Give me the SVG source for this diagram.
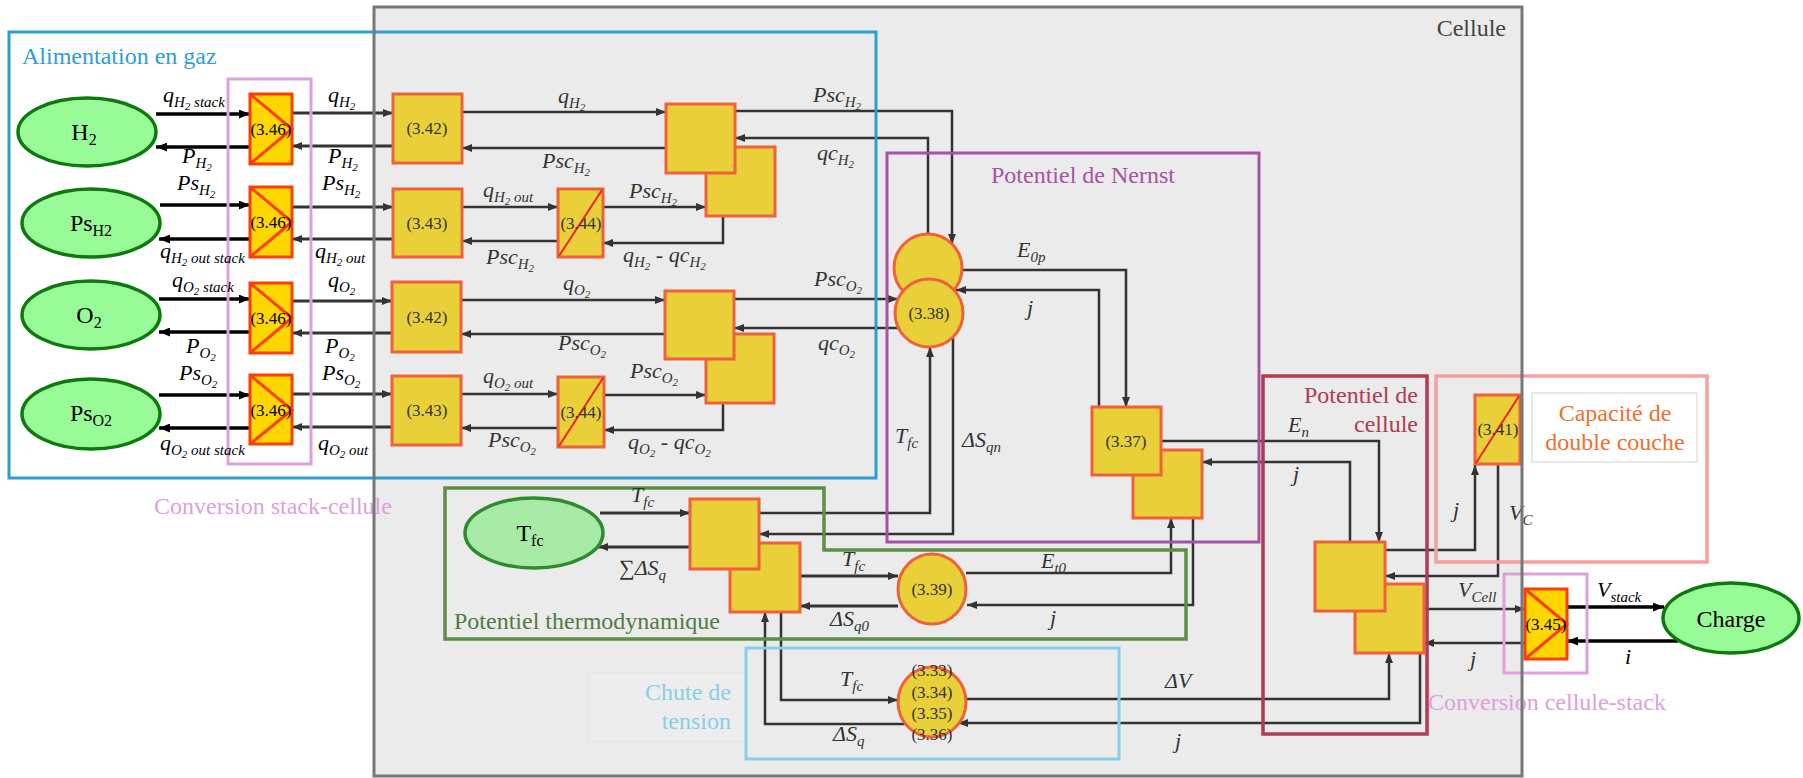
<svg xmlns="http://www.w3.org/2000/svg" width="1803" height="778" viewBox="0 0 1803 778" font-family="'Liberation Serif','Times New Roman','DejaVu Serif',serif">
<style>
text{font-family:'Liberation Serif','Times New Roman','DejaVu Serif',serif}
.eq{fill:#e9cf38;stroke:#f0603a;stroke-width:3}
.cv{fill:#ffd700;stroke:#ff3d00;stroke-width:3}
.tri{fill:none;stroke:#ff3d00;stroke-width:3}
.dg{fill:none;stroke:#ee2222;stroke-width:2}
.ell{fill:#98fb98;stroke:#0d7a0d;stroke-width:3.5}
.c{fill:none;stroke:#333;stroke-width:2.5;marker-end:url(#ah)}
.c3{fill:none;stroke:#333;stroke-width:3.2;marker-end:url(#ah)}
.k{fill:none;stroke:#000;stroke-width:3.5;marker-end:url(#ahk)}
.num{font-size:17px;fill:#333;text-anchor:middle}
.numk{font-size:17px;fill:#000;text-anchor:middle}
.lb{font-style:italic;font-size:22px;fill:#333}
.lbk{font-style:italic;font-size:22px;fill:#000}
.s{font-size:15px}
.ss{font-size:11px}
.nt{font-size:24px;fill:#000;text-anchor:middle}
.grp{font-size:24px}
.box{fill:none}
</style>
<defs>
<marker id="ah" viewBox="0 0 10 8" refX="10" refY="4" markerWidth="10" markerHeight="8" markerUnits="userSpaceOnUse" orient="auto"><path d="M0,0L10,4L0,8z" fill="#333"/></marker>
<marker id="ahk" viewBox="0 0 10 8" refX="10" refY="4" markerWidth="11" markerHeight="9" markerUnits="userSpaceOnUse" orient="auto"><path d="M0,0L10,4L0,8z" fill="#000"/></marker>
</defs>
<rect width="1803" height="778" fill="#fff"/>
<rect x="374" y="7" width="1148" height="769" fill="#ebebeb"/>
<rect x="589" y="673" width="157" height="68" fill="#ededed" stroke="#e6e6e6" stroke-width="1"/>

<g id="connectors">
<path class="k" d="M156,114H250"/>
<path class="k" d="M250,147H156"/>
<path class="k" d="M160,205H250"/>
<path class="k" d="M250,239H159"/>
<path class="k" d="M159,299H250"/>
<path class="k" d="M250,332H159"/>
<path class="k" d="M159,395H250"/>
<path class="k" d="M250,428H159"/>
<path class="c3" d="M292,113H393"/>
<path class="c3" d="M393,146H292"/>
<path class="c3" d="M292,207H393"/>
<path class="c3" d="M393,239H292"/>
<path class="c3" d="M292,301H392"/>
<path class="c3" d="M392,333H292"/>
<path class="c3" d="M292,394H392"/>
<path class="c3" d="M392,427H292"/>
<path class="c" d="M462,112H666"/>
<path class="c" d="M666,148H462"/>
<path class="c" d="M462,207H558"/>
<path class="c" d="M558,241H462"/>
<path class="c" d="M603,207H706"/>
<path class="c" d="M723,216V243H603"/>
<path class="c" d="M735,111H952V244"/>
<path class="c" d="M928,234V138H735"/>
<path class="c" d="M461,300H665"/>
<path class="c" d="M665,334H461"/>
<path class="c" d="M461,394H558"/>
<path class="c" d="M558,428H461"/>
<path class="c" d="M604,395H706"/>
<path class="c" d="M723,403V430H604"/>
<path class="c" d="M734,299H898"/>
<path class="c" d="M898,328H734"/>
<path class="c" d="M962,270H1126V407"/>
<path class="c" d="M1099,407V290H956"/>
<path class="c" d="M759,513H930V347"/>
<path class="c" d="M953,338V534H759"/>
<path class="c3" d="M600,513H690"/>
<path class="c3" d="M690,547H598"/>
<path class="c3" d="M800,576H898"/>
<path class="c3" d="M898,606H800"/>
<path class="c" d="M966,573H1171V518"/>
<path class="c" d="M1193,518V605H967"/>
<path class="c" d="M781,612V700H898"/>
<path class="c" d="M906,724H765V612"/>
<path class="c" d="M1161,441H1379V542"/>
<path class="c" d="M1350,542V462H1202"/>
<path class="c" d="M967,699H1389V653"/>
<path class="c" d="M1420,653V723H958"/>
<path class="c" d="M1385,550H1475V465"/>
<path class="c" d="M1498,464V576H1385"/>
<path class="c" d="M1424,609H1525"/>
<path class="c" d="M1525,643H1424"/>
<path class="k" d="M1567,607H1664"/>
<path class="k" d="M1678,641H1567"/>
</g>

<g id="groups">
<rect class="box" x="9" y="32" width="867" height="446" stroke="#2a9fd6" stroke-width="3"/>
<rect class="box" x="228" y="79" width="83" height="385" stroke="#dda0dd" stroke-width="3"/>
<rect class="box" x="887" y="153" width="372" height="389" stroke="#a653a6" stroke-width="3"/>
<path class="box" d="M445,488H824V550H1186V639H445Z" stroke="#5b8f45" stroke-width="3.5"/>
<rect class="box" x="746" y="648" width="373" height="111" stroke="#87ceeb" stroke-width="3"/>
<rect class="box" x="1263" y="376" width="164" height="358" stroke="#b23a52" stroke-width="3.5"/>
<rect class="box" x="1436" y="376" width="271" height="186" stroke="#f5a0a0" stroke-width="3.5"/>
<rect x="1532" y="393" width="165" height="69" fill="#fff" stroke="#cfcfcf" stroke-width="1"/>
<rect class="box" x="1504" y="574" width="83" height="99" stroke="#dda0dd" stroke-width="3"/>
</g>

<g id="H2"><ellipse class="ell" cx="87" cy="132" rx="69" ry="34"/><text class="nt" x="84" y="140">H<tspan font-size="16" dy="5">2</tspan></text></g>
<g id="PsH2"><ellipse class="ell" cx="91" cy="223" rx="69" ry="34"/><text class="nt" x="91" y="231">Ps<tspan font-size="16" dy="5">H2</tspan></text></g>
<g id="O2"><ellipse class="ell" cx="91" cy="315" rx="69" ry="34"/><text class="nt" x="89" y="323">O<tspan font-size="16" dy="5">2</tspan></text></g>
<g id="PsO2"><ellipse class="ell" cx="91" cy="414" rx="69" ry="35"/><text class="nt" x="91" y="421">Ps<tspan font-size="16" dy="5">O2</tspan></text></g>

<g id="c346a"><rect class="cv" x="250" y="94" width="42" height="70"/><path class="tri" d="M250,94L292,129L250,164"/><text class="numk" x="271" y="135">(3.46)</text></g>
<g id="c346b"><rect class="cv" x="250" y="187" width="42" height="70"/><path class="tri" d="M250,187L292,222L250,257"/><text class="numk" x="271" y="228">(3.46)</text></g>
<g id="c346c"><rect class="cv" x="250" y="283" width="42" height="70"/><path class="tri" d="M250,283L292,318L250,353"/><text class="numk" x="271" y="324">(3.46)</text></g>
<g id="c346d"><rect class="cv" x="250" y="375" width="42" height="69"/><path class="tri" d="M250,375L292,410L250,444"/><text class="numk" x="271" y="416">(3.46)</text></g>

<g id="e342h"><rect class="eq" x="393" y="94" width="69" height="69"/><text class="num" x="427" y="134">(3.42)</text></g>
<g id="e343h"><rect class="eq" x="393" y="189" width="69" height="68"/><text class="num" x="427" y="229">(3.43)</text></g>
<g id="e342o"><rect class="eq" x="392" y="282" width="69" height="70"/><text class="num" x="427" y="323">(3.42)</text></g>
<g id="e343o"><rect class="eq" x="392" y="376" width="69" height="69"/><text class="num" x="427" y="416">(3.43)</text></g>

<g id="e344h"><rect class="eq" x="558" y="189" width="45" height="68"/><path class="dg" d="M559,256L602,190"/><text class="num" x="581" y="229">(3.44)</text></g>
<g id="e344o"><rect class="eq" x="558" y="377" width="46" height="70"/><path class="dg" d="M559,446L603,378"/><text class="num" x="581" y="418">(3.44)</text></g>

<g id="pscH2"><rect class="eq" x="706" y="147" width="69" height="69"/><rect class="eq" x="666" y="104" width="69" height="69"/></g>
<g id="pscO2"><rect class="eq" x="706" y="334" width="68" height="69"/><rect class="eq" x="665" y="291" width="69" height="68"/></g>

<g id="e338"><circle class="eq" cx="928" cy="268" r="34"/><circle class="eq" cx="929" cy="313" r="34"/><text class="num" x="929" y="319">(3.38)</text></g>
<g id="e337"><rect class="eq" x="1133" y="450" width="69" height="68"/><rect class="eq" x="1092" y="407" width="69" height="68"/><text class="num" x="1126" y="447">(3.37)</text></g>

<g id="Tfc"><ellipse cx="534" cy="533" rx="69" ry="35" fill="#a6eaa6" stroke="#2e8b2e" stroke-width="3.5"/><text class="nt" x="530" y="541" fill="#222">T<tspan font-size="16" dy="5">fc</tspan></text></g>
<g id="thermo"><rect class="eq" x="730" y="543" width="70" height="69"/><rect class="eq" x="690" y="499" width="69" height="70"/></g>
<g id="e339"><ellipse class="eq" cx="932" cy="589" rx="34" ry="35"/><text class="num" x="932" y="595">(3.39)</text></g>
<g id="e333"><ellipse class="eq" cx="932" cy="702" rx="34" ry="35"/><text class="num" x="932" y="676">(3.33)</text><text class="num" x="932" y="698">(3.34)</text><text class="num" x="932" y="719">(3.35)</text><text class="num" x="932" y="740">(3.36)</text></g>

<g id="cellpot"><rect class="eq" x="1355" y="584" width="69" height="69"/><rect class="eq" x="1315" y="542" width="70" height="69"/></g>
<g id="e341"><rect class="eq" x="1475" y="395" width="45" height="69"/><path class="dg" d="M1476,463L1519,396"/><text class="num" x="1498" y="435">(3.41)</text></g>
<g id="c345"><rect class="cv" x="1525" y="589" width="42" height="70"/><path class="tri" d="M1525,589L1567,624L1525,659"/><text class="numk" x="1546" y="630">(3.45)</text></g>
<g id="Charge"><ellipse class="ell" cx="1731" cy="618" rx="68" ry="35"/><text class="nt" x="1731" y="627">Charge</text></g>

<g id="group-labels">
<text class="grp" x="22" y="64" fill="#2a9fd6" font-size="25.5">Alimentation en gaz</text>
<text class="grp" x="154" y="514" fill="#dda0dd">Conversion stack-cellule</text>
<text class="grp" x="1083" y="183" fill="#a653a6" text-anchor="middle">Potentiel de Nernst</text>
<text class="grp" x="454" y="629" fill="#4f7d3c">Potentiel thermodynamique</text>
<text class="grp" x="731" y="700" fill="#87ceeb" text-anchor="end" font-size="25">Chute de</text>
<text class="grp" x="731" y="729" fill="#87ceeb" text-anchor="end" font-size="25">tension</text>
<text class="grp" x="1418" y="403" fill="#b23a52" text-anchor="end" font-size="25">Potentiel de</text>
<text class="grp" x="1418" y="432" fill="#b23a52" text-anchor="end" font-size="25">cellule</text>
<text class="grp" x="1615" y="421" fill="#f07030" text-anchor="middle" font-size="26">Capacité de</text>
<text class="grp" x="1615" y="450" fill="#f07030" text-anchor="middle" font-size="26">double couche</text>
<text class="grp" x="1428" y="710" fill="#dda0dd">Conversion cellule-stack</text>
<text class="grp" x="1506" y="36" fill="#444" text-anchor="end">Cellule</text>
</g>

<g id="labels">
<text class="lbk" x="163" y="102">q<tspan class="s" dy="5">H</tspan><tspan class="ss" dy="3">2</tspan><tspan class="s" dy="-3"> stack</tspan></text>
<text class="lbk" x="182" y="163">P<tspan class="s" dy="5">H</tspan><tspan class="ss" dy="3">2</tspan></text>
<text class="lbk" x="177" y="190">Ps<tspan class="s" dy="5">H</tspan><tspan class="ss" dy="3">2</tspan></text>
<text class="lbk" x="160" y="258">q<tspan class="s" dy="5">H</tspan><tspan class="ss" dy="3">2</tspan><tspan class="s" dy="-3"> out stack</tspan></text>
<text class="lbk" x="172" y="287">q<tspan class="s" dy="5">O</tspan><tspan class="ss" dy="3">2</tspan><tspan class="s" dy="-3"> stack</tspan></text>
<text class="lbk" x="186" y="353">P<tspan class="s" dy="5">O</tspan><tspan class="ss" dy="3">2</tspan></text>
<text class="lbk" x="179" y="380">Ps<tspan class="s" dy="5">O</tspan><tspan class="ss" dy="3">2</tspan></text>
<text class="lbk" x="160" y="450">q<tspan class="s" dy="5">O</tspan><tspan class="ss" dy="3">2</tspan><tspan class="s" dy="-3"> out stack</tspan></text>

<text class="lbk" x="328" y="102">q<tspan class="s" dy="5">H</tspan><tspan class="ss" dy="3">2</tspan></text>
<text class="lbk" x="328" y="163">P<tspan class="s" dy="5">H</tspan><tspan class="ss" dy="3">2</tspan></text>
<text class="lbk" x="322" y="190">Ps<tspan class="s" dy="5">H</tspan><tspan class="ss" dy="3">2</tspan></text>
<text class="lbk" x="315" y="258">q<tspan class="s" dy="5">H</tspan><tspan class="ss" dy="3">2</tspan><tspan class="s" dy="-3"> out</tspan></text>
<text class="lbk" x="328" y="287">q<tspan class="s" dy="5">O</tspan><tspan class="ss" dy="3">2</tspan></text>
<text class="lbk" x="325" y="353">P<tspan class="s" dy="5">O</tspan><tspan class="ss" dy="3">2</tspan></text>
<text class="lbk" x="322" y="380">Ps<tspan class="s" dy="5">O</tspan><tspan class="ss" dy="3">2</tspan></text>
<text class="lbk" x="318" y="450">q<tspan class="s" dy="5">O</tspan><tspan class="ss" dy="3">2</tspan><tspan class="s" dy="-3"> out</tspan></text>

<text class="lb" x="558" y="103">q<tspan class="s" dy="5">H</tspan><tspan class="ss" dy="3">2</tspan></text>
<text class="lb" x="542" y="168">Psc<tspan class="s" dy="5">H</tspan><tspan class="ss" dy="3">2</tspan></text>
<text class="lb" x="483" y="197">q<tspan class="s" dy="5">H</tspan><tspan class="ss" dy="3">2</tspan><tspan class="s" dy="-3"> out</tspan></text>
<text class="lb" x="486" y="264">Psc<tspan class="s" dy="5">H</tspan><tspan class="ss" dy="3">2</tspan></text>
<text class="lb" x="629" y="198">Psc<tspan class="s" dy="5">H</tspan><tspan class="ss" dy="3">2</tspan></text>
<text class="lb" x="623" y="262">q<tspan class="s" dy="5">H</tspan><tspan class="ss" dy="3">2</tspan><tspan dy="-8"> - qc</tspan><tspan class="s" dy="5">H</tspan><tspan class="ss" dy="3">2</tspan></text>
<text class="lb" x="813" y="102">Psc<tspan class="s" dy="5">H</tspan><tspan class="ss" dy="3">2</tspan></text>
<text class="lb" x="817" y="160">qc<tspan class="s" dy="5">H</tspan><tspan class="ss" dy="3">2</tspan></text>

<text class="lb" x="563" y="290">q<tspan class="s" dy="5">O</tspan><tspan class="ss" dy="3">2</tspan></text>
<text class="lb" x="558" y="350">Psc<tspan class="s" dy="5">O</tspan><tspan class="ss" dy="3">2</tspan></text>
<text class="lb" x="483" y="383">q<tspan class="s" dy="5">O</tspan><tspan class="ss" dy="3">2</tspan><tspan class="s" dy="-3"> out</tspan></text>
<text class="lb" x="488" y="447">Psc<tspan class="s" dy="5">O</tspan><tspan class="ss" dy="3">2</tspan></text>
<text class="lb" x="630" y="378">Psc<tspan class="s" dy="5">O</tspan><tspan class="ss" dy="3">2</tspan></text>
<text class="lb" x="628" y="449">q<tspan class="s" dy="5">O</tspan><tspan class="ss" dy="3">2</tspan><tspan dy="-8"> - qc</tspan><tspan class="s" dy="5">O</tspan><tspan class="ss" dy="3">2</tspan></text>
<text class="lb" x="814" y="286">Psc<tspan class="s" dy="5">O</tspan><tspan class="ss" dy="3">2</tspan></text>
<text class="lb" x="818" y="350">qc<tspan class="s" dy="5">O</tspan><tspan class="ss" dy="3">2</tspan></text>

<text class="lb" x="1017" y="257">E<tspan class="s" dy="5">0p</tspan></text>
<text class="lb" x="1027" y="315">j</text>
<text class="lb" x="895" y="443">T<tspan class="s" dy="5">fc</tspan></text>
<text class="lb" x="962" y="447">ΔS<tspan class="s" dy="5">qn</tspan></text>
<text class="lb" x="1288" y="432">E<tspan class="s" dy="5">n</tspan></text>
<text class="lb" x="1293" y="481">j</text>
<text class="lb" x="631" y="502">T<tspan class="s" dy="5">fc</tspan></text>
<text class="lb" x="619" y="575">∑ΔS<tspan class="s" dy="5">q</tspan></text>
<text class="lb" x="842" y="566">T<tspan class="s" dy="5">fc</tspan></text>
<text class="lb" x="830" y="626">ΔS<tspan class="s" dy="5">q0</tspan></text>
<text class="lb" x="1041" y="568">E<tspan class="s" dy="5">t0</tspan></text>
<text class="lb" x="1050" y="625">j</text>
<text class="lb" x="840" y="686">T<tspan class="s" dy="5">fc</tspan></text>
<text class="lb" x="833" y="741">ΔS<tspan class="s" dy="5">q</tspan></text>
<text class="lb" x="1165" y="688">ΔV</text>
<text class="lb" x="1175" y="748">j</text>
<text class="lb" x="1453" y="517">j</text>
<text class="lb" x="1509" y="520">V<tspan class="s" dy="5">C</tspan></text>
<text class="lb" x="1458" y="597">V<tspan class="s" dy="5">Cell</tspan></text>
<text class="lb" x="1470" y="666">j</text>
<text class="lbk" x="1597" y="597">V<tspan class="s" dy="5">stack</tspan></text>
<text class="lbk" x="1625" y="664">i</text>
</g>

<rect x="374" y="7" width="1148" height="769" fill="none" stroke="#777" stroke-width="3"/>
</svg>
